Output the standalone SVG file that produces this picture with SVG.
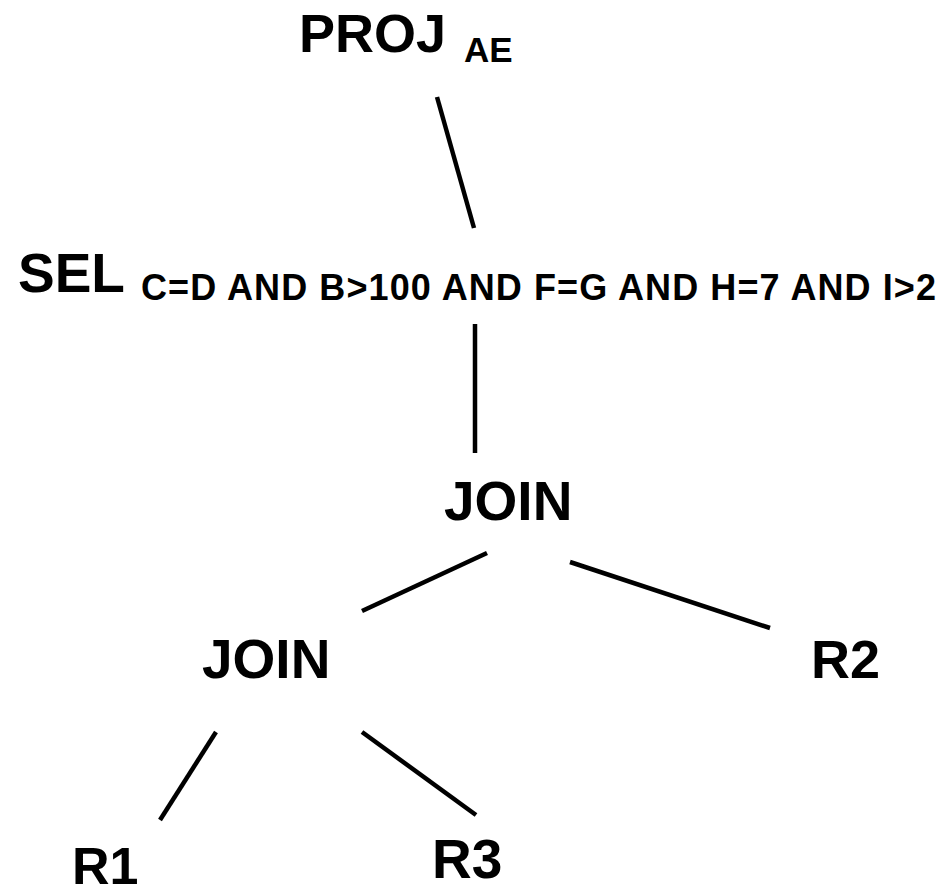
<svg xmlns="http://www.w3.org/2000/svg" width="943" height="890" viewBox="0 0 943 890">
<style>
.t{font-family:"Liberation Sans",Arial,sans-serif;font-weight:bold;fill:#000}
.big{font-size:55px}
.sub{font-size:35px}
.cond{font-size:36px}
.e{stroke:#000;stroke-width:4.5;fill:none;stroke-linecap:butt}
</style>
<rect width="943" height="890" fill="#fff"/>
<g id="edges">
<line class="e" x1="437" y1="97" x2="474" y2="228"/>
<line class="e" x1="475" y1="324" x2="475" y2="453"/>
<line class="e" x1="487" y1="553" x2="362" y2="611"/>
<line class="e" x1="570" y1="562" x2="770" y2="628"/>
<line class="e" x1="216" y1="732" x2="160" y2="820"/>
<line class="e" x1="362" y1="732" x2="476" y2="815"/>
</g>
<g id="proj"><text class="t big" x="299" y="52" style="font-size:54px">PROJ</text><text class="t sub" x="464" y="62">AE</text></g>
<g id="sel"><text class="t big" x="18" y="292">SEL</text><text class="t cond" x="141" y="300" textLength="795" lengthAdjust="spacing">C=D AND B&gt;100 AND F=G AND H=7 AND I&gt;2</text></g>
<g id="join1"><text class="t big" x="444" y="520">JOIN</text></g>
<g id="join2"><text class="t big" x="202" y="678">JOIN</text></g>
<g id="r2"><text class="t big" x="811" y="678" style="font-size:54px">R2</text></g>
<g id="r1"><text class="t big" x="72" y="884" style="font-size:52px">R1</text></g>
<g id="r3"><text class="t big" x="432" y="878">R3</text></g>
</svg>
